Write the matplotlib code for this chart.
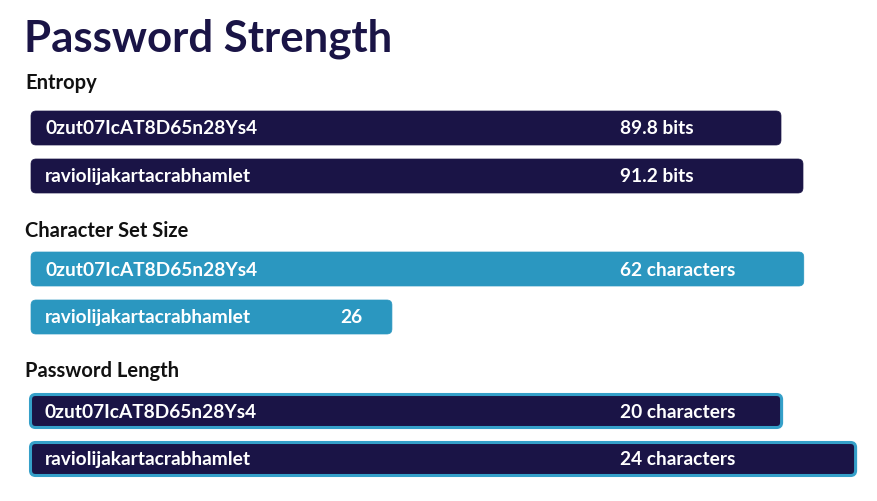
import matplotlib
matplotlib.use("Agg")
import matplotlib.pyplot as plt
from matplotlib.patches import FancyBboxPatch

plt.rcParams['font.family'] = ['Lato', 'DejaVu Sans']

# data
passwords = ["0zut07IcAT8D65n28Ys4", "raviolijakartacrabhamlet"]
entropy_bits = [89.8, 91.2]
charset_size = [62, 26]
pwd_length = [20, 24]

entropy_labels = ["89.8 bits", "91.2 bits"]
charset_labels = ["62 characters", "26"]
length_labels = ["20 characters", "24 characters"]

NAVY = "#1a1446"
BLUE = "#2b97c0"
EDGE = "#35a0c9"

W, H, DPI = 877, 502, 100
fig = plt.figure(figsize=(W / DPI, H / DPI), dpi=DPI)
fig.patch.set_facecolor("white")


def px_box(top, bottom):
    # axes spanning the full width, vertical pixel range top..bottom
    return [0, 1 - bottom / H, 1, (bottom - top) / H]


# section: (title, y of label, axes top/bottom px, values, labels, colour, edge,
#           baseline value, px per unit, left px of bars)
sections = [
    ("Entropy", 83, 105, 201, entropy_bits, entropy_labels, NAVY, None, 42.06, 15.71, 31),
    ("Character Set Size", 231, 246, 342, charset_size, charset_labels, BLUE, None, -5.55, 11.44, 31),
    ("Password Length", 371, 388, 484, pwd_length, length_labels, NAVY, EDGE, -20.6, 18.5, 30.5),
]

fig.text(24 / W, 1 - 39 / H, "Password Strength", fontsize=31.5, fontweight="bold",
         color=NAVY, va="center", ha="left")

for name, ly, top, bottom, vals, labels, col, edge, base, ppu, left_px in sections:
    fig.text(25 / W, 1 - ly / H, name, fontsize=14.5, fontweight="bold",
             color="#111111", va="center", ha="left")
    ax = fig.add_axes(px_box(top, bottom))
    ax.set_axis_off()
    x0 = base - left_px / ppu
    ax.set_xlim(x0, x0 + W / ppu)
    ax.set_ylim(1.5, -0.5)
    ypp = 2.0 / (bottom - top)   # y units per pixel
    xpp = 1.0 / ppu              # x units per pixel
    bar_h = 34 * ypp if edge is None else 33 * ypp
    for i, v in enumerate(vals):
        patch = FancyBboxPatch((base, i - bar_h / 2), v - base, bar_h,
                               boxstyle="round,pad=0,rounding_size=%f" % (5 * xpp),
                               mutation_aspect=ypp / xpp,
                               facecolor=col,
                               edgecolor=edge if edge else col,
                               linewidth=2.2 if edge else 0.5)
        ax.add_patch(patch)
        ax.annotate(passwords[i], xy=(base, i), xytext=(14, 0), textcoords="offset pixels",
                    color="white", fontsize=13.8, fontweight="bold", va="center", ha="left")
        right_px = (v - x0) * ppu
        lab_px = min(620, right_px - 52)
        ax.text(x0 + lab_px * xpp, i, labels[i], color="white", fontsize=13.8,
                fontweight="bold", va="center", ha="left")

fig.savefig("out.png", dpi=DPI)
